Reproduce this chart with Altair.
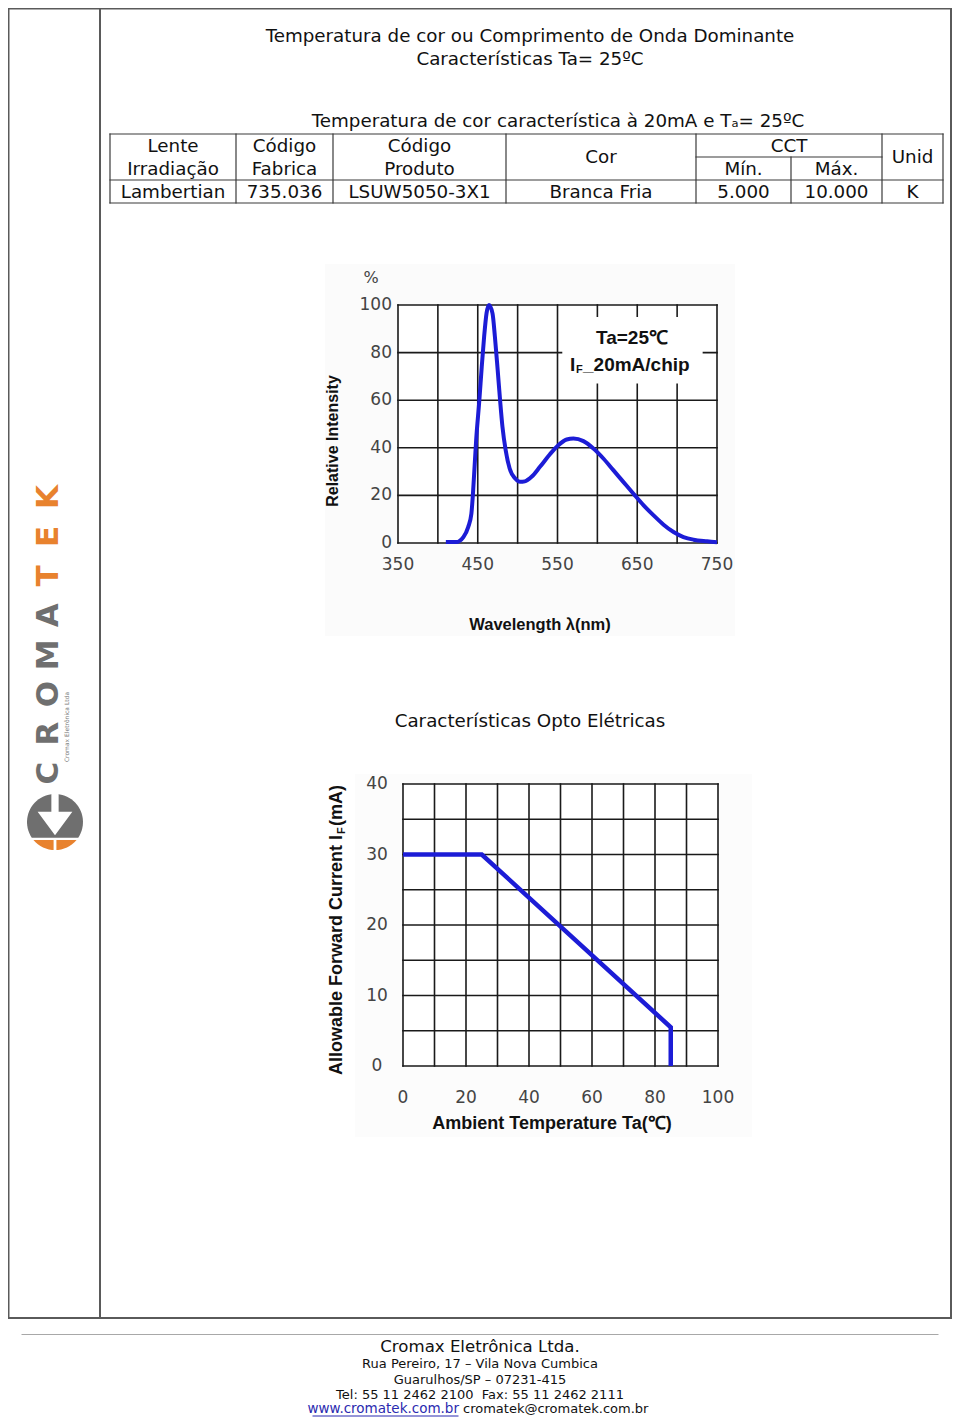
import altair as alt
import pandas as pd

# ---------------- values ----------------
head_lines = ["Temperatura de cor ou Comprimento de Onda Dominante",
              "Características Ta= 25ºC"]
table_caption = "Temperatura de cor característica à 20mA e Tₐ= 25ºC"
table_head_top = ["Lente", "Código", "Código", "Cor", "CCT", "Unid"]
table_head_bottom = ["Irradiação", "Fabrica", "Produto", "Mín.", "Máx."]
table_values = ["Lambertian", "735.036", "LSUW5050-3X1", "Branca Fria",
                "5.000", "10.000", "K"]
section_title = "Características Opto Elétricas"

spec_wavelength = [410, 423, 432, 438, 442, 444, 446, 448, 452, 455, 458, 461, 464,
                   468.5, 471.5, 475, 478, 481, 485, 490, 497, 503, 509, 517.5,
                   528, 540.5, 551, 561.5, 570, 582.5, 595, 607.5, 620, 632.5,
                   645, 658, 670.5, 683, 695.5, 708, 720.5, 737.5, 750]
spec_intensity = [0.4, 0.4, 2.5, 6.7, 12.3, 20.8, 32, 43.2, 60, 74, 86.7, 96.5, 100,
                  96.5, 86.7, 72.6, 60, 48.8, 39, 31.3, 27.1, 25.7, 25.9, 27.8,
                  32, 37.3, 41.1, 43.5, 43.9, 42.8, 39.7, 35.5, 30.6, 25.7,
                  20.8, 15.8, 11.6, 7.7, 4.6, 2.5, 1.4, 0.7, 0.3]
spec_x_grid = [350, 400, 450, 500, 550, 600, 650, 700, 750]
spec_x_labels = [350, 450, 550, 650, 750]
spec_y_grid = [0, 20, 40, 60, 80, 100]
spec_note_1 = "Ta=25℃"
spec_note_2 = ["I", "F", "_20mA/chip"]
spec_y_title = "Relative Intensity"
spec_x_title = "Wavelength λ(nm)"
spec_unit = "%"

derate_temp = [0, 25, 85, 85]
derate_current = [30, 30, 5.5, 0]
derate_x_grid = [0, 10, 20, 30, 40, 50, 60, 70, 80, 90, 100]
derate_x_labels = [0, 20, 40, 60, 80, 100]
derate_y_grid = [0, 5, 10, 15, 20, 25, 30, 35, 40]
derate_y_labels = [0, 10, 20, 30, 40]
derate_y_title = ["Allowable Forward Current I", "F", "(mA)"]
derate_x_title = "Ambient Temperature Ta(℃)"

logo_letters = ["C", "R", "O", "M", "A", "T", "E", "K"]
logo_groups = ["grey", "grey", "grey", "grey", "grey", "orange", "orange", "orange"]
logo_small = "Cromax Eletrônica Ltda"

footer_name = "Cromax Eletrônica Ltda."
footer_lines = ["Rua Pereiro, 17 – Vila Nova Cumbica",
                "Guarulhos/SP – 07231-415",
                "Tel: 55 11 2462 2100\u00a0\u00a0Fax: 55 11 2462 2111"]
footer_web = "www.cromatek.com.br"
footer_mail = "cromatek@cromatek.com.br"

# ---------------- layout / style ----------------
OFF = 8
W, H = 944, 1410
PX = alt.Scale(domain=[OFF, OFF + W], range=[0, W], nice=False, zero=False)
PY = alt.Scale(domain=[OFF, OFF + H], range=[0, H], nice=False, zero=False)

FONT = "DejaVu Sans"
BOLD = "Liberation Sans"
INK = "#111111"
GRID = "#1a1a1a"
LABEL = "#444444"
BLUE = "#1c1cd6"
FRAME = "#5a5a5a"
ORANGE = "#e8822e"
GREY = "#6f6f6f"
ONE = pd.DataFrame({"k": [0]})


def page_text(rows, **kw):
    df = pd.DataFrame(rows, columns=["t", "x", "y"])
    kw.setdefault("baseline", "middle")
    kw.setdefault("font", FONT)
    kw.setdefault("color", INK)
    return alt.Chart(df).mark_text(**kw).encode(
        x=alt.X("x:Q", scale=PX, axis=None),
        y=alt.Y("y:Q", scale=PY, axis=None),
        text="t:N")


def page_rules(segs, color, width):
    df = pd.DataFrame(segs, columns=["x", "x2", "y", "y2"])
    return alt.Chart(df).mark_rule(color=color, strokeWidth=width, strokeCap="square").encode(
        x=alt.X("x:Q", scale=PX, axis=None), x2="x2:Q",
        y=alt.Y("y:Q", scale=PY, axis=None), y2="y2:Q")


def page_rect(box, color):
    df = pd.DataFrame([box], columns=["x", "x2", "y", "y2"])
    return alt.Chart(df).mark_rect(color=color).encode(
        x=alt.X("x:Q", scale=PX, axis=None), x2="x2:Q",
        y=alt.Y("y:Q", scale=PY, axis=None), y2="y2:Q")


def grid(xs, ys, sx, sy):
    v = pd.DataFrame({"g": xs, "lo": ys[0], "hi": ys[-1]})
    h = pd.DataFrame({"g": ys, "lo": xs[0], "hi": xs[-1]})
    vert = alt.Chart(v).mark_rule(color=GRID, strokeWidth=1.6, strokeCap="square").encode(
        x=alt.X("g:Q", scale=sx, axis=None),
        y=alt.Y("lo:Q", scale=sy, axis=None), y2="hi:Q")
    hor = alt.Chart(h).mark_rule(color=GRID, strokeWidth=1.6, strokeCap="square").encode(
        y=alt.Y("g:Q", scale=sy, axis=None),
        x=alt.X("lo:Q", scale=sx, axis=None), x2="hi:Q")
    return [vert, hor]


def xlabels(vals, sx, ypage):
    return alt.Chart(pd.DataFrame({"g": vals})).mark_text(
        font=FONT, fontSize=17, color=LABEL, baseline="middle").encode(
        x=alt.X("g:Q", scale=sx, axis=None), y=alt.value(ypage - OFF),
        text=alt.Text("g:Q", format="d"))


def ylabels(vals, sy, xpage, align):
    return alt.Chart(pd.DataFrame({"g": vals})).mark_text(
        font=FONT, fontSize=17, color=LABEL, baseline="middle", align=align).encode(
        y=alt.Y("g:Q", scale=sy, axis=None), x=alt.value(xpage - OFF),
        text=alt.Text("g:Q", format="d"))


layers = []

# frame of the page
layers.append(page_rules([(8.5, 951, 8.5, 8.5), (8.5, 951, 1318, 1318),
                          (8.5, 8.5, 8.5, 1318), (951, 951, 8.5, 1318),
                          (100, 100, 8.5, 1318)], FRAME, 2))

# headings
layers.append(page_text([(head_lines[0], 530, 37), (head_lines[1], 530, 60),
                         (table_caption, 558, 122), (section_title, 530, 722)],
                        fontSize=18.3))

# table
col_edges = [110, 236, 333, 506, 696, 791, 882, 943]
row_edges = [134, 157, 180, 203]
top_spans = [(0, 1, 0, 1), (1, 2, 0, 1), (2, 3, 0, 1), (3, 4, 0, 2), (4, 6, 0, 1), (6, 7, 0, 2)]
bottom_spans = [(0, 1), (1, 2), (2, 3), (4, 5), (5, 6)]
cells = []
for txt, (a, b, r0, r1) in zip(table_head_top, top_spans):
    cells.append((txt, (col_edges[a] + col_edges[b]) / 2, (row_edges[r0] + row_edges[r1]) / 2 + 1))
for txt, (a, b) in zip(table_head_bottom, bottom_spans):
    cells.append((txt, (col_edges[a] + col_edges[b]) / 2, (row_edges[1] + row_edges[2]) / 2 + 1))
for i, txt in enumerate(table_values):
    cells.append((txt, (col_edges[i] + col_edges[i + 1]) / 2, (row_edges[2] + row_edges[3]) / 2 + 1))
segs = [(110, 943, 134, 134), (696, 882, 157, 157), (110, 943, 180, 180), (110, 943, 203, 203),
        (791, 791, 157, 203)]
segs += [(x, x, 134, 203) for x in [110, 236, 333, 506, 696, 882, 943]]
layers.append(page_rules(segs, "#3a3a3a", 1.2))
layers.append(page_text(cells, fontSize=18.3))

# ---------------- spectrum chart ----------------
SX = alt.Scale(domain=[350, 750], range=[398 - OFF, 717 - OFF], nice=False, zero=False)
SY = alt.Scale(domain=[0, 100], range=[543 - OFF, 305 - OFF], nice=False, zero=False)
layers.append(page_rect((325, 735, 264, 636), "#fbfbfb"))
layers.append(alt.Chart(ONE).mark_rect(color="white").encode(
    x=alt.X("a:Q", scale=SX, axis=None), x2="b:Q",
    y=alt.Y("c:Q", scale=SY, axis=None), y2="d:Q").transform_calculate(
    a="350", b="750", c="0", d="100"))
layers += grid(spec_x_grid, spec_y_grid, SX, SY)
# white box behind the note
layers.append(alt.Chart(ONE).mark_rect(color="white").encode(
    x=alt.X("a:Q", scale=SX, axis=None), x2="b:Q",
    y=alt.Y("c:Q", scale=SY, axis=None), y2="d:Q").transform_calculate(
    a="556", b="732", c="67", d="95"))
layers.append(alt.Chart(pd.DataFrame({"w": spec_wavelength, "r": spec_intensity})).mark_line(
    color=BLUE, strokeWidth=4, interpolate="monotone").encode(
    x=alt.X("w:Q", scale=SX, axis=None), y=alt.Y("r:Q", scale=SY, axis=None)))
layers.append(xlabels(spec_x_labels, SX, 565))
layers.append(ylabels(spec_y_grid, SY, 392, "right"))
layers.append(page_text([(spec_unit, 371, 278)], fontSize=16, color=LABEL))
layers.append(page_text([(spec_note_1, 632, 338)], font=BOLD, fontSize=19, fontWeight="bold"))
layers.append(page_text([(spec_note_2[0], 570, 365), (spec_note_2[2], 583, 365)],
                        font=BOLD, fontSize=19, fontWeight="bold", align="left"))
layers.append(page_text([(spec_note_2[1], 576, 370)], font=BOLD, fontSize=11, fontWeight="bold",
                        align="left"))
layers.append(page_text([(spec_y_title, 333, 441)], font=BOLD, fontSize=16, fontWeight="bold",
                        angle=270))
layers.append(page_text([(spec_x_title, 540, 625)], font=BOLD, fontSize=16.5, fontWeight="bold"))

# ---------------- derating chart ----------------
DX = alt.Scale(domain=[0, 100], range=[403 - OFF, 718 - OFF], nice=False, zero=False)
DY = alt.Scale(domain=[0, 40], range=[1066 - OFF, 784 - OFF], nice=False, zero=False)
layers.append(page_rect((355, 752, 774, 1137), "#fcfcfc"))
layers.append(alt.Chart(ONE).mark_rect(color="white").encode(
    x=alt.X("a:Q", scale=DX, axis=None), x2="b:Q",
    y=alt.Y("c:Q", scale=DY, axis=None), y2="d:Q").transform_calculate(
    a="0", b="100", c="0", d="40"))
layers += grid(derate_x_grid, derate_y_grid, DX, DY)
layers.append(alt.Chart(pd.DataFrame({"t": derate_temp, "i": derate_current,
                                      "k": list(range(len(derate_temp)))})).mark_line(
    color=BLUE, strokeWidth=4.5).encode(
    x=alt.X("t:Q", scale=DX, axis=None), y=alt.Y("i:Q", scale=DY, axis=None), order="k:Q"))
layers.append(xlabels(derate_x_labels, DX, 1098))
layers.append(ylabels(derate_y_labels, DY, 377, "center"))
layers.append(page_text([(derate_y_title[0], 337, 1075), (derate_y_title[2], 337, 826)],
                        font=BOLD, fontSize=18, fontWeight="bold", angle=270, align="left"))
layers.append(page_text([(derate_y_title[1], 342, 834)], font=BOLD, fontSize=11, fontWeight="bold",
                        angle=270, align="left"))
layers.append(page_text([(derate_x_title, 552, 1124)], font=BOLD, fontSize=18, fontWeight="bold"))

# ---------------- logo column ----------------
layers.append(alt.Chart(pd.DataFrame({"c": logo_letters, "g": logo_groups})).mark_text(
    font=FONT, fontSize=31, fontWeight="bold", angle=270, baseline="middle").encode(
    x=alt.value(49 - OFF),
    y=alt.Y("c:N", sort=None, axis=None,
            scale=alt.Scale(type="point", domain=logo_letters, range=[773 - OFF, 497 - OFF],
                            padding=0)),
    text="c:N",
    color=alt.Color("g:N", legend=None,
                    scale=alt.Scale(domain=["grey", "orange"], range=[GREY, ORANGE]))))
layers.append(page_text([(logo_small, 67, 727)], fontSize=6, color="#777777", angle=270))
logo_paths = [
    ("M -0.83 0.56 A 1 1 0 1 1 0.83 0.56 Z", GREY),
    ("M -0.77 0.64 A 1 1 0 0 0 0.77 0.64 Z", ORANGE),
    ("M -0.13 -1.05 L 0.13 -1.05 L 0.13 -0.37 L 0.62 -0.37 L 0 0.47 L -0.62 -0.37 "
     "L -0.13 -0.37 Z M -0.05 0.6 L 0.05 0.6 L 0.05 1.05 L -0.05 1.05 Z", "white"),
]
for path, col in logo_paths:
    layers.append(alt.Chart(ONE).mark_point(shape=path, filled=True, color=col, opacity=1,
                                            strokeWidth=0, size=3136).encode(
        x=alt.value(55 - OFF), y=alt.value(822 - OFF)))

# ---------------- footer ----------------
layers.append(page_rules([(22, 938, 1334.5, 1334.5)], "#a8a8a8", 1))
layers.append(page_text([(footer_name, 480, 1347)], fontSize=16.6))
layers.append(page_text([(footer_lines[0], 480, 1364), (footer_lines[1], 480, 1380),
                         (footer_lines[2], 480, 1395)], fontSize=13))
layers.append(page_text([(footer_web, 459, 1409)], fontSize=13.5, color="#2b2bb0", align="right"))
layers.append(page_rules([(313, 458, 1416, 1416)], "#2b2bb0", 1))
layers.append(page_text([(footer_mail, 463, 1409)], fontSize=13, align="left"))

chart = alt.layer(*layers).resolve_scale(
    x="independent", y="independent", color="independent"
).properties(
    width=W, height=H, padding=0, background="white",
    autosize=alt.AutoSizeParams(type="none")
).configure_view(stroke=None)

chart.save("out.html", embed_options={"renderer": "svg", "actions": False})
